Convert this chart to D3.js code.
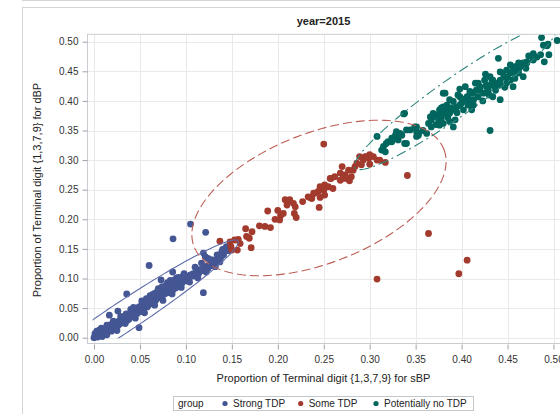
<!DOCTYPE html>
<html><head><meta charset="utf-8">
<script src="https://cdn.jsdelivr.net/npm/d3@7/dist/d3.min.js"></script>
<style>body{margin:0;background:#fff}svg{display:block}text{font-family:"Liberation Sans",Arial,sans-serif}</style>
</head><body><svg id="c" width="560" height="414"></svg>
<script>
const title = "year=2015";
const xLabel = "Proportion of Terminal digit {1,3,7,9} for sBP";
const yLabel = "Proportion of Terminal digit {1,3,7,9} for dBP";
const groups = ["Strong TDP", "Some TDP", "Potentially no TDP"];
const xTicks = [0,0.05,0.10,0.15,0.20,0.25,0.30,0.35,0.40,0.45,0.50];
const yTicks = [0,0.05,0.10,0.15,0.20,0.25,0.30,0.35,0.40,0.45,0.50];

const strongTDP = [
[0.000,0.000],[0.002,0.003],[0.001,0.007],[0.004,0.001],[0.005,0.006],[0.003,0.011],[0.007,0.004],[0.008,0.009],[0.006,0.013],[0.010,0.006],[0.011,0.011],[0.009,0.002],[0.013,0.009],[0.012,0.015],[0.015,0.012],[0.014,0.005],[0.017,0.014],[0.016,0.019],[0.019,0.011],[0.020,0.017],[0.018,0.022],
[0.022,0.021],[0.023,0.015],[0.024,0.025],[0.026,0.020],[0.027,0.028],[0.028,0.023],[0.030,0.026],[0.031,0.031],[0.033,0.027],[0.032,0.035],[0.034,0.031],[0.036,0.029],[0.035,0.036],[0.037,0.034],[0.039,0.038],[0.038,0.031],[0.041,0.036],[0.040,0.042],[0.042,0.040],[0.044,0.037],[0.043,0.046],[0.045,0.043],[0.047,0.041],[0.046,0.049],[0.048,0.046],[0.050,0.044],[0.049,0.052],
[0.051,0.048],[0.053,0.051],[0.052,0.056],[0.054,0.047],[0.055,0.053],[0.057,0.057],[0.056,0.061],[0.058,0.052],[0.059,0.060],[0.060,0.056],[0.061,0.064],[0.062,0.059],[0.063,0.067],[0.064,0.061],[0.065,0.065],[0.066,0.070],[0.067,0.063],[0.068,0.072],[0.069,0.067],[0.070,0.075],[0.071,0.069],[0.072,0.073],[0.073,0.079],[0.074,0.070],[0.075,0.076],[0.076,0.081],[0.077,0.074],[0.078,0.078],[0.079,0.084],[0.080,0.076],[0.081,0.081],[0.082,0.087],[0.083,0.079],[0.084,0.083],[0.085,0.089],[0.086,0.081],[0.087,0.086],[0.088,0.091],[0.089,0.084],[0.090,0.088],[0.091,0.093],[0.066,0.075],[0.071,0.080],[0.078,0.088],[0.062,0.068],[0.058,0.064],[0.084,0.094],[0.080,0.093],
[0.093,0.091],[0.094,0.096],[0.096,0.093],[0.098,0.099],[0.100,0.096],[0.101,0.104],[0.103,0.101],[0.105,0.106],[0.107,0.104],[0.108,0.108],[0.110,0.106],[0.112,0.112],[0.114,0.109],[0.115,0.115],[0.117,0.113],[0.119,0.117],[0.121,0.119],[0.123,0.121],[0.124,0.117],[0.126,0.124],[0.128,0.122],[0.130,0.127],[0.129,0.131],[0.132,0.130],[0.134,0.128],[0.134,0.140],[0.136,0.134],[0.139,0.145],[0.138,0.136],[0.141,0.140],[0.143,0.148],[0.144,0.154],[0.146,0.147],[0.149,0.151],[0.119,0.143],[0.121,0.137],[0.124,0.134],[0.130,0.131],
[0.008,0.016],[0.014,0.021],[0.021,0.028],[0.025,0.012],[0.029,0.036],[0.034,0.024],[0.040,0.048],[0.045,0.033],[0.052,0.062],[0.055,0.042],[0.061,0.071],[0.066,0.055],[0.070,0.083],[0.075,0.063],[0.081,0.092],[0.085,0.074],[0.090,0.101],[0.095,0.085],[0.098,0.108],[0.104,0.094],[0.110,0.119],[0.113,0.101],[0.117,0.126],[0.122,0.111],[0.127,0.132],[0.132,0.120],[0.137,0.128],[0.140,0.149],[0.035,0.040],[0.043,0.051],[0.057,0.066],[0.064,0.073],[0.069,0.078],[0.074,0.086],[0.083,0.097],[0.088,0.098],[0.092,0.102],[0.097,0.104],
[0.105,0.192],[0.1215,0.178],[0.086,0.167],[0.060,0.122],[0.0356,0.074],[0.049,0.017],[0.119,0.076],[0.026,0.045],[0.0167,0.038],[0.0856,0.111],[0.073,0.0975]
];
const someTDP = [
[0.137,0.163],[0.148,0.162],[0.149,0.154],[0.157,0.166],[0.159,0.159],[0.156,0.148],[0.169,0.168],[0.171,0.152],[0.165,0.184],[0.150,0.148],[0.153,0.165],[0.166,0.171],[0.172,0.179],
[0.180,0.189],[0.186,0.188],[0.192,0.186],[0.189,0.214],[0.197,0.200],[0.203,0.206],[0.200,0.215],[0.208,0.233],[0.213,0.233],[0.210,0.224],[0.219,0.221],[0.218,0.210],[0.220,0.203],[0.202,0.199],[0.206,0.210],[0.217,0.227],[0.227,0.230],[0.233,0.238],[0.237,0.235],[0.235,0.237],[0.239,0.244],[0.244,0.247],[0.246,0.237],[0.250,0.249],[0.251,0.241],[0.255,0.255],[0.260,0.252],[0.258,0.269],[0.245,0.220],
[0.268,0.278],[0.271,0.269],[0.273,0.275],[0.277,0.283],[0.278,0.265],[0.280,0.272],[0.284,0.289],[0.286,0.295],[0.293,0.300],[0.299,0.303],[0.304,0.306],[0.308,0.300],[0.300,0.293],[0.317,0.296],[0.270,0.289],[0.262,0.272],[0.257,0.269],[0.251,0.258],[0.246,0.255],[0.240,0.244],[0.291,0.292],[0.282,0.283],[0.275,0.269],[0.268,0.266],[0.295,0.306],[0.289,0.306],[0.297,0.306],[0.300,0.309],[0.311,0.300],
[0.250,0.327],[0.341,0.274],[0.364,0.176],[0.308,0.099],[0.397,0.108],[0.406,0.131]
];
const potentiallyNoTDP = [
[0.308,0.340],[0.313,0.317],[0.317,0.314],[0.315,0.323],[0.318,0.328],[0.320,0.331],[0.324,0.331],[0.324,0.337],[0.328,0.337],[0.328,0.342],[0.331,0.334],[0.333,0.345],[0.329,0.348],[0.335,0.342],[0.340,0.351],[0.338,0.328],[0.340,0.328],[0.337,0.378],[0.338,0.379],[0.344,0.351],[0.349,0.356],[0.351,0.348],[0.353,0.342],[0.351,0.340],[0.351,0.356],[0.353,0.345],
[0.364,0.362],[0.366,0.373],[0.369,0.379],[0.373,0.376],[0.376,0.385],[0.380,0.390],[0.384,0.387],[0.382,0.379],[0.387,0.379],[0.391,0.385],[0.395,0.390],[0.393,0.368],[0.391,0.356],[0.367,0.356],[0.367,0.368],[0.369,0.373],[0.375,0.368],[0.376,0.359],[0.380,0.362],[0.387,0.365],[0.373,0.376],[0.376,0.379],[0.378,0.388],[0.382,0.385],[0.384,0.393],[0.389,0.388],[0.384,0.379],[0.393,0.385],[0.402,0.385],[0.407,0.393],[0.413,0.393],
[0.380,0.413],[0.382,0.413],[0.398,0.407],[0.404,0.402],[0.407,0.407],[0.413,0.402],[0.411,0.385],[0.387,0.402],[0.391,0.399],[0.396,0.410],[0.398,0.393],[0.400,0.404],[0.406,0.407],[0.409,0.399],[0.409,0.416],[0.412,0.413],[0.416,0.418],[0.415,0.430],[0.420,0.418],[0.420,0.424],[0.424,0.413],[0.429,0.418],[0.427,0.424],[0.427,0.427],[0.425,0.435],[0.433,0.435],[0.433,0.427],[0.431,0.441],[0.434,0.435],[0.438,0.430],[0.436,0.424],[0.434,0.407],[0.442,0.402],[0.442,0.427],[0.442,0.435],[0.440,0.472],[0.442,0.449],[0.445,0.447],[0.449,0.452],[0.449,0.430],[0.453,0.447],[0.453,0.461],[0.453,0.435],[0.456,0.449],[0.456,0.452],[0.458,0.458],[0.458,0.438],[0.456,0.424],[0.462,0.464],[0.462,0.447],[0.464,0.458],[0.467,0.464],[0.467,0.441],[0.471,0.466],[0.471,0.464],[0.473,0.476],[0.478,0.469],[0.490,0.466],
[0.358,0.350],[0.362,0.345],[0.372,0.360],[0.378,0.371],[0.385,0.372],[0.395,0.380],[0.400,0.396],[0.418,0.407],[0.423,0.400],[0.430,0.410],[0.437,0.418],[0.446,0.440],[0.450,0.440],[0.447,0.423],[0.462,0.453],[0.470,0.455],[0.478,0.480],[0.482,0.474],[0.486,0.478],[0.495,0.478],[0.418,0.430],[0.426,0.445],[0.398,0.420],[0.404,0.424],
[0.487,0.507],[0.489,0.494],[0.493,0.493],[0.494,0.496],[0.504,0.502],
[0.431,0.350]
];

const W = 560, H = 414;
const plot = {left: 87, top: 34.3, right: 562, bottom: 344};
const x = d3.scaleLinear().domain([0, 0.5]).range([94, 553.5]);
const y = d3.scaleLinear().domain([0, 0.5]).range([337.7, 41.7]);

// 95% ellipses (data units): center and conjugate semi-axis vectors
const ellipseCenters = [[0.0337,0.0367],[0.2448,0.2360],[0.3939,0.4066]];
const ellipseMajor = [[0.1230,0.1267],[0.1359,0.0823],[0.1099,0.1199]];
const ellipseMinor = [[0.0090,-0.0210],[0.0257,-0.1024],[0.01186,-0.02635]];

const colors = ["#445694", "#A23A2E", "#01665E"];
const lineColors = ["#5F6DAA", "#BD5F55", "#2E857B"];
const dashes = [null, "9,4", "10,4,2,4"];

const svg = d3.select("#c");
const gray = "#d3d6d9";

// outer frame
svg.append("line").attr("x1",22).attr("x2",W).attr("y1",0.5).attr("y2",0.5).attr("stroke",gray);
svg.append("line").attr("x1",22).attr("x2",W).attr("y1",7.5).attr("y2",7.5).attr("stroke",gray);
svg.append("line").attr("x1",22.5).attr("x2",22.5).attr("y1",7.5).attr("y2",H).attr("stroke",gray);

// title
svg.append("text").attr("x",323.5).attr("y",24.5).attr("text-anchor","middle")
  .attr("font-size",11).attr("font-weight","bold").attr("fill","#222").text(title);

// grid
const grid = svg.append("g");
grid.selectAll("line.v").data(xTicks).join("line").attr("class","v")
  .attr("x1",d=>Math.round(x(d))+0.5).attr("x2",d=>Math.round(x(d))+0.5)
  .attr("y1",plot.top).attr("y2",plot.bottom).attr("stroke","#e9e9ea");
grid.selectAll("line.h").data(yTicks).join("line").attr("class","h")
  .attr("y1",d=>Math.round(y(d))+0.5).attr("y2",d=>Math.round(y(d))+0.5)
  .attr("x1",plot.left).attr("x2",plot.right).attr("stroke","#e9e9ea");

// plot frame
svg.append("rect").attr("x",plot.left+0.5).attr("y",plot.top).attr("width",plot.right-plot.left)
  .attr("height",plot.bottom-plot.top-0.5).attr("fill","none").attr("stroke","#c9cdd1");

// axes
const xAxis = d3.axisBottom(x).tickValues(xTicks).tickFormat(d3.format(".2f")).tickSize(5).tickPadding(4);
const yAxis = d3.axisLeft(y).tickValues(yTicks).tickFormat(d3.format(".2f")).tickSize(5).tickPadding(4);
const gx = svg.append("g").attr("transform",`translate(0,${plot.bottom+0.5})`).call(xAxis);
const gy = svg.append("g").attr("transform",`translate(${plot.left+0.5},0)`).call(yAxis);
[gx,gy].forEach(g=>{
  g.select(".domain").remove();
  g.selectAll(".tick line").attr("stroke","#9da3a8");
  g.selectAll(".tick text").attr("font-size",10).attr("fill","#333")
    .attr("font-family","'Liberation Sans',Arial,sans-serif");
});
gx.selectAll(".tick text").attr("dy","0.9em");

// axis labels
svg.append("text").attr("x",323.5).attr("y",382).attr("text-anchor","middle")
  .attr("font-size",11).attr("fill","#222").text(xLabel);
svg.append("text").attr("transform","translate(41,190) rotate(-90)").attr("text-anchor","middle")
  .attr("font-size",11).attr("fill","#222").text(yLabel);

// clip
svg.append("clipPath").attr("id","clipE").append("rect")
  .attr("x",x(0)-1.5).attr("y",plot.top+0.5).attr("width",plot.right-x(0)).attr("height",y(0)-plot.top);
svg.append("clipPath").attr("id","clipP").append("rect")
  .attr("x",plot.left+1).attr("y",plot.top+0.5).attr("width",plot.right-plot.left).attr("height",plot.bottom-plot.top-1);

// points
const series = [strongTDP, someTDP, potentiallyNoTDP];
const pts = svg.append("g").attr("clip-path","url(#clipP)");
series.forEach((s,i)=>{
  pts.append("g").selectAll("circle").data(s).join("circle")
    .attr("cx",d=>x(d[0])).attr("cy",d=>y(d[1])).attr("r",3.4).attr("fill",colors[i]);
});

// ellipses
const line = d3.line().x(d=>x(d[0])).y(d=>y(d[1]));
const eg = svg.append("g").attr("clip-path","url(#clipE)");
ellipseCenters.forEach((c,i)=>{
  const A = ellipseMajor[i], B = ellipseMinor[i];
  const ptsE = d3.range(0, 361, 2).map(a=>{
    const t = a*Math.PI/180;
    return [c[0]+A[0]*Math.cos(t)+B[0]*Math.sin(t), c[1]+A[1]*Math.cos(t)+B[1]*Math.sin(t)];
  });
  eg.append("path").attr("d",line(ptsE)).attr("fill","none").attr("stroke",lineColors[i])
    .attr("stroke-width",1.1).attr("stroke-dasharray",dashes[i]);
});

// legend
const lg = svg.append("g");
lg.append("rect").attr("x",173.5).attr("y",396.5).attr("width",300).attr("height",14)
  .attr("fill","#fff").attr("stroke","#c4c7ca");
lg.append("text").attr("x",178).attr("y",407).attr("font-size",10).attr("fill","#222").text("group");
const lgX = [225, 300.7, 376];
groups.forEach((g,i)=>{
  lg.append("circle").attr("cx",lgX[i]).attr("cy",403.5).attr("r",2.6).attr("fill",colors[i]);
  lg.append("text").attr("x",lgX[i]+8).attr("y",407).attr("font-size",10).attr("fill","#222").text(g);
});
</script></body></html>
